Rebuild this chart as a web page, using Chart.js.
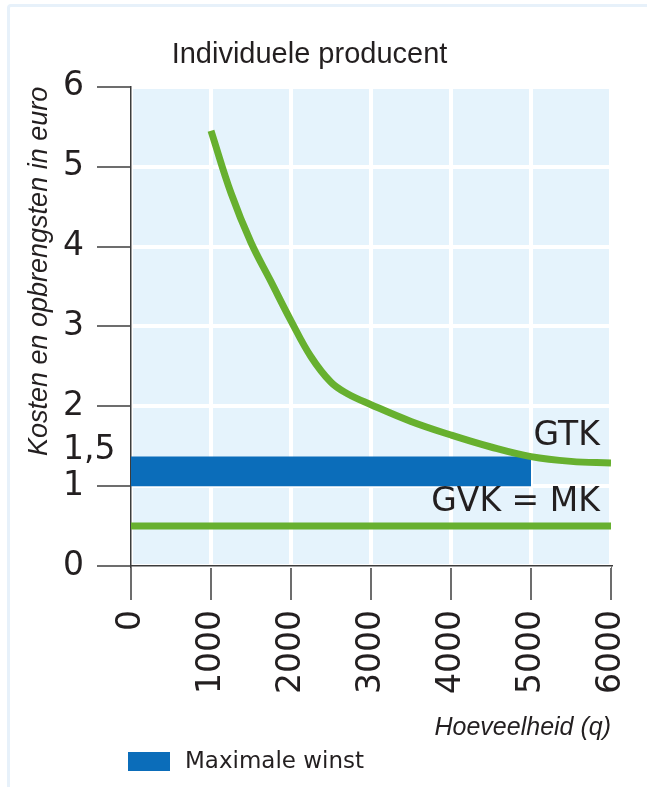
<!DOCTYPE html>
<html lang="nl">
<head>
<meta charset="utf-8">
<title>Individuele producent</title>
<script src="https://cdn.jsdelivr.net/npm/chart.js@4.4.1/dist/chart.umd.min.js"></script>
<style>
  html, body { margin: 0; padding: 0; background: #fff; overflow: hidden; }
  #frame {
    position: absolute; left: 7px; top: 4px; width: 640px; height: 783px;
    border-left: 3px solid #e7f1fa; border-top: 3px solid #e7f1fa;
    border-top-left-radius: 4px; box-sizing: border-box;
  }
  #chart { position: absolute; left: 0; top: 0; }
</style>
</head>
<body>
<div id="frame"></div>
<canvas id="chart" width="647" height="787"></canvas>
<script>
// GTK (average total cost)
const quantity = [1000, 1250, 1500, 1750, 2000, 2250, 2500, 2700, 3000, 3500, 4000, 4500, 5000, 5500, 6000];
const gtk = [5.45, 4.67, 4.05, 3.56, 3.07, 2.62, 2.3, 2.16, 2.02, 1.81, 1.64, 1.49, 1.37, 1.31, 1.29];

// GVK = MK, flat
const gvkQuantity = [0, 6000];
const gvk = [0.5, 0.5];

// maximale winst block
const winstQuantity = [0, 5000];
const winstTop = [1.37, 1.37];
const winstBottom = [1, 1];

const xTickValues = [0, 1000, 2000, 3000, 4000, 5000, 6000];
const yTickValues = [0, 1, 1.45, 2, 3, 4, 5, 6];
const yTickLabels = ['0', '1', '1,5', '2', '3', '4', '5', '6'];

const curveNames = ['GTK', 'GVK = MK'];

const GREEN = '#67b02f';
const BLUE = '#0b6dba';
const INK = '#231f20';
const AXIS = '#3c3c3c';
const NUM_FONT = "'DejaVu Sans', sans-serif";
const SANS_FONT = "'Liberation Sans', Arial, sans-serif";

const toPoints = (xs, ys) => xs.map((x, i) => ({ x, y: ys[i] }));

const plotBackground = {
  id: 'plotBackground',
  beforeDraw(chart) {
    const { ctx, chartArea: a } = chart;
    ctx.save();
    ctx.fillStyle = '#e5f3fc';
    ctx.fillRect(a.left, a.top, a.right - a.left, a.bottom - a.top);
    ctx.restore();
  }
};

// text next to the curves, anchored in data units
const curveLabels = {
  id: 'curveLabels',
  afterDatasetsDraw(chart) {
    const { ctx, scales: { x, y } } = chart;
    const anchors = [[5860, 1.62], [5860, 0.8]];
    ctx.save();
    ctx.font = '33px ' + NUM_FONT;
    ctx.fillStyle = INK;
    ctx.textAlign = 'right';
    ctx.textBaseline = 'middle';
    curveNames.forEach((name, i) => {
      ctx.fillText(name, x.getPixelForValue(anchors[i][0]), y.getPixelForValue(anchors[i][1]));
    });
    ctx.restore();
  }
};

// single legend entry, lined up under the y axis
const winstLegend = {
  id: 'winstLegend',
  afterDraw(chart) {
    const { ctx, chartArea } = chart;
    const ds = chart.data.datasets.find(d => d.label === 'Maximale winst');
    const left = chartArea.left - 3;
    const mid = 762;
    ctx.save();
    ctx.fillStyle = ds.backgroundColor;
    ctx.fillRect(left, mid - 10, 42, 19);
    ctx.font = '23px ' + NUM_FONT;
    ctx.fillStyle = INK;
    ctx.textBaseline = 'middle';
    ctx.fillText(ds.label, left + 57, mid);
    ctx.restore();
  }
};

const hiddenTick = c => c.tick && c.tick.value === 1.45;

new Chart(document.getElementById('chart'), {
  type: 'line',
  data: {
    datasets: [
      {
        label: 'GTK',
        data: toPoints(quantity, gtk),
        borderColor: GREEN,
        borderWidth: 7,
        tension: 0.4,
        pointRadius: 0,
        fill: false
      },
      {
        label: 'GVK = MK',
        data: toPoints(gvkQuantity, gvk),
        borderColor: GREEN,
        borderWidth: 7,
        pointRadius: 0,
        fill: false
      },
      {
        label: 'Maximale winst',
        data: toPoints(winstQuantity, winstTop),
        borderWidth: 0,
        pointRadius: 0,
        backgroundColor: BLUE,
        fill: '+1'
      },
      {
        label: 'winst onder',
        data: toPoints(winstQuantity, winstBottom),
        borderWidth: 0,
        pointRadius: 0,
        fill: false
      }
    ]
  },
  options: {
    responsive: false,
    animation: false,
    events: [],
    layout: { padding: { left: 8, right: 36, top: 8, bottom: 42 } },
    plugins: {
      legend: { display: false },
      tooltip: { enabled: false },
      title: {
        display: true,
        text: 'Individuele producent',
        color: INK,
        font: { family: SANS_FONT, size: 29, weight: 'normal' },
        padding: { top: 30, bottom: 14 }
      }
    },
    scales: {
      x: {
        type: 'linear',
        min: 0,
        max: 6000,
        afterBuildTicks: s => { s.ticks = xTickValues.map(v => ({ value: v })); },
        afterFit: s => {
          s.height = 179;
          // the rotated labels fit inside the right margin already
          s.paddingLeft = 0;
          s.paddingRight = 0;
        },
        ticks: {
          autoSkip: false,
          minRotation: 90,
          maxRotation: 90,
          padding: 10,
          color: INK,
          font: { family: NUM_FONT, size: 33 },
          callback: v => String(v)
        },
        grid: { color: '#fff', lineWidth: 4, tickLength: 34, tickColor: AXIS, tickWidth: 1.5 },
        border: { color: AXIS, width: 1.5 },
        title: {
          display: true,
          text: 'Hoeveelheid (q)',
          align: 'end',
          color: INK,
          font: { family: SANS_FONT, size: 25, style: 'italic' },
          padding: { top: 0, bottom: 2 }
        }
      },
      y: {
        type: 'linear',
        position: 'left',
        weight: 0,
        min: 0,
        max: 6,
        afterBuildTicks: s => { s.ticks = yTickValues.map(v => ({ value: v })); },
        afterFit: s => { s.width = 68; },
        ticks: {
          autoSkip: false,
          crossAlign: 'far',
          padding: 0,
          color: INK,
          font: { family: NUM_FONT, size: 33 },
          callback: v => yTickLabels[yTickValues.indexOf(v)]
        },
        grid: {
          color: c => hiddenTick(c) ? 'rgba(0,0,0,0)' : '#fff',
          tickColor: c => hiddenTick(c) ? 'rgba(0,0,0,0)' : AXIS,
          lineWidth: 4,
          tickWidth: 1.5,
          tickLength: 34
        },
        border: { color: AXIS, width: 1.5 }
      },
      yTitle: {
        axis: 'y',
        type: 'linear',
        position: 'left',
        weight: 1,
        min: 0,
        max: 6,
        afterFit: s => { s.width = 55; },
        ticks: { display: false },
        grid: { display: false },
        border: { display: false },
        title: {
          display: true,
          text: 'Kosten en opbrengsten in euro',
          align: 'end',
          color: INK,
          font: { family: SANS_FONT, size: 27, style: 'italic' },
          padding: { top: 15, bottom: 0 }
        }
      }
    }
  },
  plugins: [plotBackground, curveLabels, winstLegend]
});
</script>
</body>
</html>
